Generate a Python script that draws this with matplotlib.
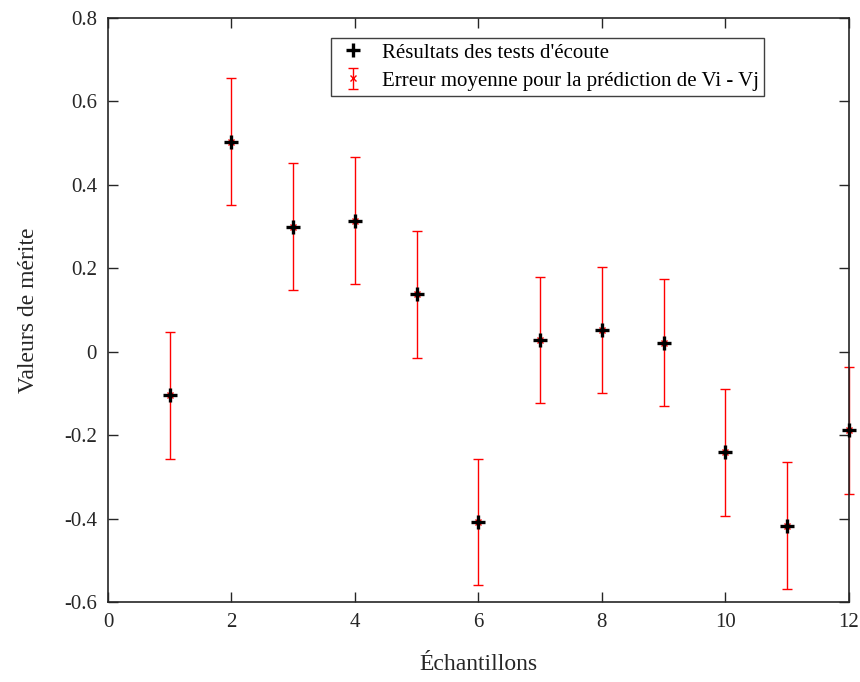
import matplotlib
matplotlib.use("Agg")
from matplotlib import pyplot as plt
import numpy as np

# donnees
echantillons = [1, 2, 3, 4, 5, 6, 7, 8, 9, 10, 11, 12]
merite = [-0.104, 0.503, 0.300, 0.314, 0.138, -0.408, 0.028, 0.052, 0.022, -0.241, -0.417, -0.188]
erreur = [0.152, 0.152, 0.152, 0.152, 0.152, 0.152, 0.152, 0.152, 0.152, 0.152, 0.152, 0.152]

plt.rcParams['font.family'] = ['Liberation Serif', 'DejaVu Serif']

fig = plt.figure(figsize=(8.6, 6.82), dpi=100)
ax = fig.add_axes([0.1256, 0.1173, 0.987 - 0.1256, 0.9736 - 0.1173])

eb = ax.errorbar(echantillons, merite, yerr=erreur, fmt='x', color='red',
                 ecolor='red', elinewidth=1, capsize=3.6, capthick=1,
                 markersize=5, markeredgewidth=1, zorder=2)
pts, = ax.plot(echantillons, merite, '+', color='black', markersize=10,
               markeredgewidth=2.4, zorder=3)
for art in eb.lines[1] + eb.lines[2] + (eb.lines[0], pts):
    art.set_clip_on(False)

ax.set_xlim(0, 12)
ax.set_ylim(-0.6, 0.8)
ax.set_xticks(np.arange(0, 13, 2))
ax.set_yticks(np.arange(-0.6, 0.81, 0.2))
ax.set_yticklabels(['-0.6', '-0.4', '-0.2', '0', '0.2', '0.4', '0.6', '0.8'])

for s in ax.spines.values():
    s.set_color('#262626')
    s.set_linewidth(1.2)
ax.tick_params(direction='in', length=7, width=1, colors='#262626',
               labelcolor='#262626', labelsize=15, top=True, right=True, pad=8)

ax.set_xlabel('Échantillons', fontsize=17, color='#262626', labelpad=16)
ax.set_ylabel('Valeurs de mérite', fontsize=17, color='#262626', labelpad=18)

leg = ax.legend([pts, eb], ["Résultats des tests d'écoute",
                            'Erreur moyenne pour la prédiction de Vi - Vj'],
                loc='upper left', bbox_to_anchor=(0.301, 0.966), fontsize=15,
                fancybox=False, framealpha=1, edgecolor='#404040',
                borderpad=0.25, handletextpad=0.6, labelspacing=0.4,
                handlelength=1.6, borderaxespad=0)
leg.get_frame().set_linewidth(1)

fig.savefig('out.png', dpi=100)
